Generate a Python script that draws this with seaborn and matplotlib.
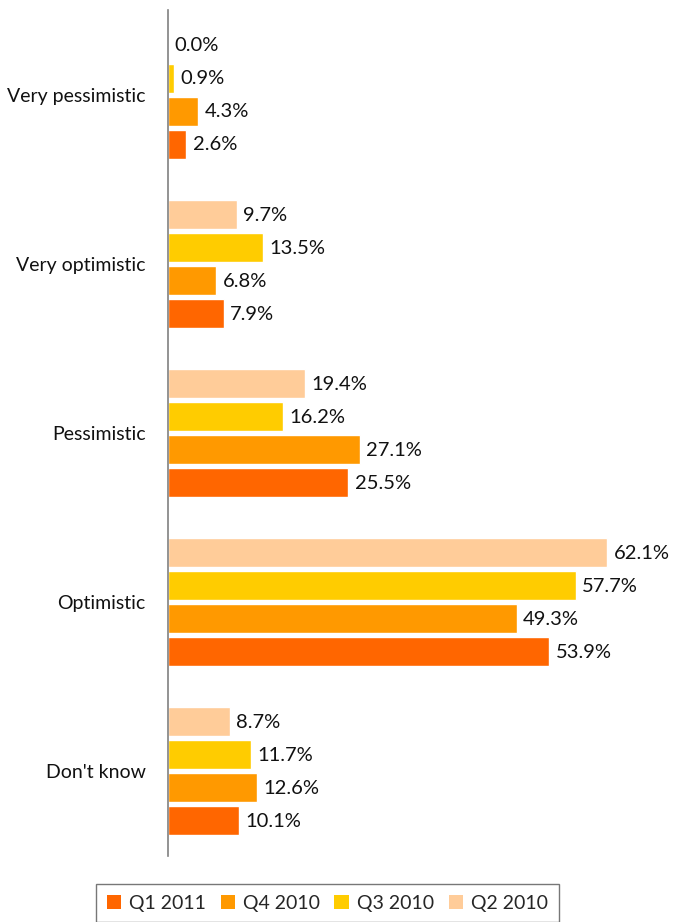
import matplotlib
matplotlib.use("Agg")
import matplotlib.pyplot as plt
from matplotlib.patches import Patch
import seaborn as sns
import pandas as pd
import numpy as np

categories = ["Very pessimistic", "Very optimistic", "Pessimistic", "Optimistic", "Don't know"]
q2_2010 = [0.0, 9.7, 19.4, 62.1, 8.7]
q3_2010 = [0.9, 13.5, 16.2, 57.7, 11.7]
q4_2010 = [4.3, 6.8, 27.1, 49.3, 12.6]
q1_2011 = [2.6, 7.9, 25.5, 53.9, 10.1]

series_names = ["Q2 2010", "Q3 2010", "Q4 2010", "Q1 2011"]
series_values = [q2_2010, q3_2010, q4_2010, q1_2011]
colors = {"Q1 2011": "#FF6600", "Q4 2010": "#FF9900", "Q3 2010": "#FFCC00", "Q2 2010": "#FFCC99"}
legend_order = ["Q1 2011", "Q4 2010", "Q3 2010", "Q2 2010"]

rows = []
for name, vals in zip(series_names, series_values):
    for c, v in zip(categories, vals):
        rows.append({"category": c, "series": name, "value": v})
df = pd.DataFrame(rows)

sns.set_style("white")
plt.rcParams["font.family"] = ["Lato", "DejaVu Sans"]

W, H = 676, 922
fig = plt.figure(figsize=(W / 100, H / 100), dpi=100)
left, right, top, bottom = 168, 663, 10, 856
ax = fig.add_axes([left / W, (H - bottom) / H, (right - left) / W, (bottom - top) / H])

sns.barplot(data=df, y="category", x="value", hue="series", order=categories,
            hue_order=series_names, palette=colors, orient="h", width=0.78, gap=0.12,
            saturation=1, ax=ax, legend=False, errorbar=None)

ax.set_xlim(0, 70)
ax.set_ylim(4.5, -0.5)
ax.set_xlabel("")
ax.set_ylabel("")
ax.set_xticks([])

for container in ax.containers:
    for bar in container:
        w = bar.get_width()
        y = bar.get_y() + bar.get_height() / 2
        ax.text(w + 0.9, y + 0.005, f"{w:.1f}%", va="center", ha="left", fontsize=14.5, color="#111111")

for s in ["top", "right", "bottom"]:
    ax.spines[s].set_visible(False)
ax.spines["left"].set_color("#808080")
ax.spines["left"].set_linewidth(1.2)

ax.set_yticks(range(len(categories)))
ax.set_yticklabels(categories, fontsize=14, color="#111111")
ax.tick_params(axis="y", which="major", length=0, pad=16)
ax.set_yticks(np.arange(-0.5, len(categories), 1.0), minor=True)
ax.tick_params(axis="y", which="minor", length=6, width=1.2, color="#808080", direction="out")

handles = [Patch(facecolor=colors[n], edgecolor="none", label=n) for n in legend_order]
leg = fig.legend(handles=handles, loc="upper left", bbox_to_anchor=(96 / W, (H - 884) / H),
                 ncol=4, frameon=True, fancybox=False, fontsize=14, handlelength=0.75,
                 handleheight=0.75, handletextpad=0.4, columnspacing=0.75, borderpad=0.55,
                 borderaxespad=0)
leg.get_frame().set_edgecolor("#555555")
leg.get_frame().set_linewidth(1.0)

fig.savefig("out.png", dpi=100)
